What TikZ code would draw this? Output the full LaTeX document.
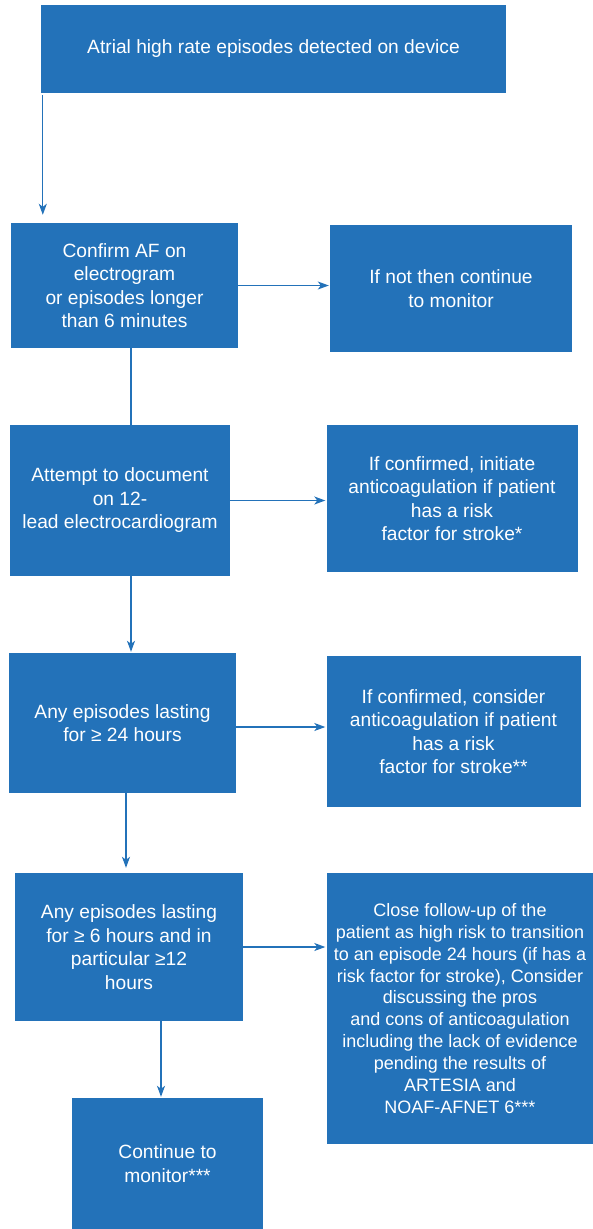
\documentclass[tikz,border=0pt]{standalone}
\usepackage{fontspec}
\setmainfont{Liberation Sans}
\usetikzlibrary{positioning,calc,arrows.meta}
\definecolor{flowblue}{RGB}{35,114,185}
\tikzset{
	box/.style={fill=flowblue, text=white, align=center, inner sep=0pt,
		font=\fontsize{19.2}{23.5}\selectfont},
	arr/.style={draw=flowblue, line width=1.2pt, -{Stealth[length=11pt,width=8pt,inset=3pt]}},
	link/.style={draw=flowblue, line width=1.2pt}
}

\begin{document}
\begin{tikzpicture}[x=1pt, y=-1pt]
	\useasboundingbox (0,0) rectangle (593,1229);
	\begin{scope}
		\node[box, minimum width=465pt, minimum height=88pt] (top) at (273.5, 49) {Atrial high rate episodes detected on device};
		\node[box, minimum width=227pt, minimum height=125pt] (conf) at (124.5, 285.5) {Confirm AF on\\electrogram\\or episodes longer\\than 6 minutes};
		\node[box, minimum width=242pt, minimum height=127pt] (notc) at (451, 288.5) {If not then continue\\to monitor};
		\node[box, minimum width=220pt, minimum height=151pt] (att) at (120, 500.5) {Attempt to document\\on 12-\\lead electrocardiogram};
		\node[box, minimum width=251pt, minimum height=147pt] (init) at (452, 498.5) {If confirmed, initiate\\anticoagulation if patient\\has a risk\\factor for stroke*};
		\node[box, minimum width=227pt, minimum height=140pt] (day) at (122.5, 723) {Any episodes lasting\\for ≥ 24 hours};
		\node[box, minimum width=254pt, minimum height=151pt] (cons) at (453.5, 731.5) {If confirmed, consider\\anticoagulation if patient\\has a risk\\factor for stroke**};
		\node[box, minimum width=228pt, minimum height=148pt] (six) at (129, 947) {Any episodes lasting\\for ≥ 6 hours and in\\particular ≥12\\hours};
		\node[box, minimum width=267pt, minimum height=271pt, font=\fontsize{18}{21.9}\selectfont] (clos) at (460, 1008.5) {Close follow-up of the\\patient as high risk to transition\\to an episode 24 hours (if has a\\risk factor for stroke), Consider\\discussing the pros\\and cons of anticoagulation\\including the lack of evidence\\pending the results of\\ARTESIA and\\NOAF-AFNET 6***};
		\node[box, minimum width=191pt, minimum height=131pt] (cont) at (167.5, 1163.5) {Continue to\\monitor***};

		\draw[arr, shorten <=2pt, shorten >=8pt] ([xshift=2pt]top.south west) -- ([xshift=2pt]top.south west |- conf.north);
		\draw[arr, shorten >=1pt] (conf.east) -- (conf.east -| notc.west);
		\draw[link] ([xshift=6.5pt]conf.south) -- ([xshift=6.5pt]conf.south |- att.north);
		\draw[arr, shorten >=1pt] (att.east) -- (att.east -| init.west);
		\draw[arr, shorten >=1pt] ([xshift=11pt]att.south) -- ([xshift=11pt]att.south |- day.north);
		\draw[arr, shorten >=1pt] ([yshift=-4pt]day.east) -- ([yshift=-4pt]day.east -| cons.west);
		\draw[arr, shorten >=5pt] ([xshift=3.5pt]day.south) -- ([xshift=3.5pt]day.south |- six.north);
		\draw[arr, shorten >=1pt] (six.east) -- (six.east -| clos.west);
		\draw[arr, shorten >=1pt] ([xshift=32pt]six.south) -- ([xshift=32pt]six.south |- cont.north);
	\end{scope}
\end{tikzpicture}
\end{document}
